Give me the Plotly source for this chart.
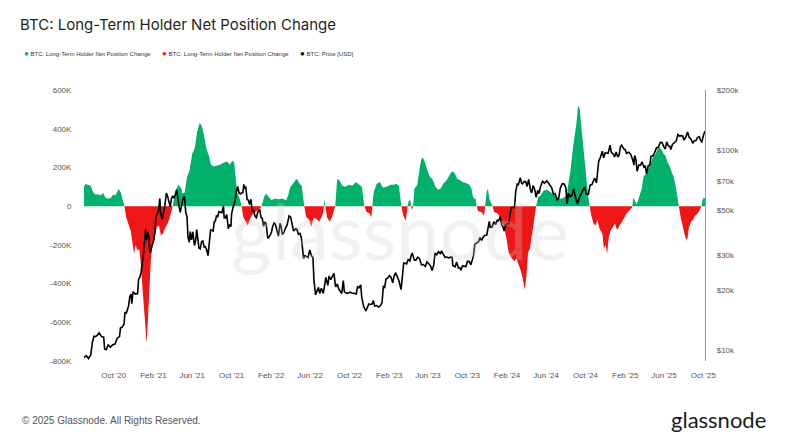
import numpy as np
import plotly.graph_objects as go

# ---------------- DATA ----------------
# Long-Term Holder Net Position Change (BTC, thousands)
lth_dates = [
"2020-07-01","2020-07-05","2020-07-13","2020-07-22","2020-07-29","2020-08-05","2020-08-13","2020-08-22","2020-08-29",
"2020-09-05","2020-09-13","2020-09-22","2020-09-29","2020-10-06","2020-10-12","2020-10-16","2020-10-23","2020-10-29",
"2020-11-03","2020-11-09","2020-11-16","2020-11-23","2020-11-28","2020-12-03","2020-12-08","2020-12-13","2020-12-19",
"2020-12-24","2020-12-29","2021-01-03","2021-01-08","2021-01-11","2021-01-15","2021-01-20","2021-01-24","2021-01-30",
"2021-02-05","2021-02-11","2021-02-18","2021-02-24","2021-03-03","2021-03-10","2021-03-17","2021-03-23","2021-03-29",
"2021-04-02","2021-04-08","2021-04-19","2021-04-29","2021-05-01","2021-05-09","2021-05-16","2021-05-24","2021-06-01",
"2021-06-09","2021-06-16","2021-06-24","2021-06-29","2021-07-04","2021-07-10","2021-07-16","2021-07-23","2021-07-29",
"2021-08-07","2021-08-17","2021-08-28","2021-09-07","2021-09-17","2021-09-26","2021-10-03","2021-10-09","2021-10-13",
"2021-10-18","2021-10-26","2021-11-01","2021-11-06","2021-11-13","2021-11-20","2021-11-26","2021-12-04","2021-12-14",
"2021-12-27","2022-01-02","2022-01-09","2022-01-16","2022-01-25","2022-02-02","2022-02-12","2022-02-25","2022-03-07",
"2022-03-19","2022-03-25","2022-04-01","2022-04-09","2022-04-17","2022-04-22","2022-04-30","2022-05-06","2022-05-11",
"2022-05-14","2022-05-20","2022-05-29","2022-06-05","2022-06-12","2022-06-20","2022-06-29","2022-07-07","2022-07-12",
"2022-07-14","2022-07-16","2022-07-18","2022-07-24","2022-08-01","2022-08-08","2022-08-15","2022-08-18","2022-08-24",
"2022-08-30","2022-09-09","2022-09-19","2022-09-30","2022-10-10","2022-10-21","2022-10-31","2022-11-08","2022-11-13",
"2022-11-16","2022-11-23","2022-12-01","2022-12-08","2022-12-11","2022-12-15","2022-12-24","2023-01-03","2023-01-13",
"2023-01-24","2023-02-05","2023-02-13","2023-02-24","2023-03-03","2023-03-08","2023-03-11","2023-03-16","2023-03-24",
"2023-03-28","2023-03-30","2023-04-03","2023-04-08","2023-04-10","2023-04-13","2023-04-16","2023-04-20","2023-04-29",
"2023-05-06","2023-05-11","2023-05-16","2023-05-23","2023-05-30","2023-06-07","2023-06-15","2023-06-24","2023-07-02",
"2023-07-10","2023-07-18","2023-07-27","2023-08-04","2023-08-10","2023-08-16","2023-08-23","2023-08-31","2023-09-08",
"2023-09-16","2023-09-27","2023-10-07","2023-10-13","2023-10-19","2023-10-27","2023-10-30","2023-11-03","2023-11-13",
"2023-11-22","2023-11-25","2023-11-30","2023-12-04","2023-12-08","2023-12-14","2023-12-18","2023-12-23","2023-12-31",
"2024-01-06","2024-01-14","2024-01-23","2024-01-30","2024-02-06","2024-02-14","2024-02-23","2024-03-01","2024-03-08",
"2024-03-14","2024-03-20","2024-03-27","2024-04-01","2024-04-06","2024-04-12","2024-04-18","2024-04-24","2024-04-29",
"2024-05-01","2024-05-07","2024-05-15","2024-05-24","2024-06-01","2024-06-09","2024-06-17","2024-06-26","2024-07-04",
"2024-07-12","2024-07-21","2024-07-29","2024-08-04","2024-08-10","2024-08-16","2024-08-23","2024-08-29","2024-09-03",
"2024-09-08","2024-09-13","2024-09-18","2024-09-24","2024-09-29","2024-10-04","2024-10-09","2024-10-14","2024-10-19",
"2024-10-26","2024-11-01","2024-11-07","2024-11-13","2024-11-19","2024-11-22","2024-11-27","2024-12-02","2024-12-07",
"2024-12-12","2024-12-17","2024-12-25","2024-12-31","2025-01-07","2025-01-14","2025-01-21","2025-01-28","2025-02-04",
"2025-02-12","2025-02-21","2025-02-23","2025-02-26","2025-03-03","2025-03-08","2025-03-13","2025-03-18","2025-03-24",
"2025-03-30","2025-04-05","2025-04-11","2025-04-17","2025-04-24","2025-04-30","2025-05-06","2025-05-12","2025-05-18",
"2025-05-25","2025-05-31","2025-06-06","2025-06-12","2025-06-18","2025-06-25","2025-07-01","2025-07-07","2025-07-13",
"2025-07-17","2025-07-23","2025-07-28","2025-08-03","2025-08-09","2025-08-13","2025-08-17","2025-08-24","2025-08-30",
"2025-09-05","2025-09-12","2025-09-20","2025-09-25","2025-09-28","2025-10-02","2025-10-06",
]
lth_k = [
100,115,110,105,72,60,62,55,68,
45,38,42,60,55,75,90,70,38,
0,-60,-90,-130,-190,-245,-200,-230,-220,
-300,-420,-540,-650,-710,-580,-430,-280,-190,
-160,-110,-100,-150,-140,-110,-90,-60,-15,
0,70,110,90,65,70,150,185,270,
300,380,430,420,395,345,290,260,215,
205,210,215,225,230,215,235,225,150,
75,40,0,-55,-80,-100,-70,-45,-30,
-15,0,45,65,45,30,40,35,40,
30,55,100,115,135,140,115,105,40,
0,-55,-70,-105,-60,-65,-80,-55,-30,
0,38,0,-60,-80,-55,-15,0,140,
135,105,100,110,105,125,110,100,40,
0,-30,-35,-57,0,70,115,125,95,
100,110,110,115,105,38,0,-45,-75,
-30,0,30,28,0,-20,0,90,110,
190,240,253,225,185,150,140,100,85,
90,115,130,150,170,180,170,140,135,
125,120,110,95,45,35,0,-25,-30,
-48,0,75,90,40,20,0,-30,-35,
-45,-75,-110,-165,-240,-265,-285,-270,-300,
-330,-370,-430,-360,-240,-220,-150,-70,-10,
0,45,55,80,85,80,70,55,45,
38,40,48,60,115,190,300,360,430,
520,505,410,300,210,125,55,0,-50,
-90,-100,-70,-115,-135,-140,-220,-200,-245,
-160,-130,-110,-90,-125,-100,-85,-60,-40,
-25,-10,0,45,25,10,30,55,90,
155,165,185,210,230,260,270,295,305,
290,270,260,225,210,175,150,105,50,
0,-60,-100,-140,-175,-165,-110,-80,-70,
-50,-40,-20,0,30,45,40,
]

# BTC price (USD)
price_dates = [
"2020-07-01","2020-07-08","2020-07-15","2020-07-22","2020-07-27","2020-08-01","2020-08-05","2020-08-10","2020-08-17",
"2020-08-24","2020-08-31","2020-09-03","2020-09-08","2020-09-14","2020-09-21","2020-09-28","2020-10-05","2020-10-12",
"2020-10-19","2020-10-22","2020-10-26","2020-11-02","2020-11-05","2020-11-09","2020-11-16","2020-11-20","2020-11-24",
"2020-11-26","2020-11-30","2020-12-07","2020-12-14","2020-12-17","2020-12-21","2020-12-25","2020-12-28","2020-12-31",
"2021-01-03","2021-01-08","2021-01-11","2021-01-14","2021-01-18","2021-01-21","2021-01-25","2021-01-29","2021-02-02",
"2021-02-06","2021-02-08","2021-02-12","2021-02-16","2021-02-21","2021-02-23","2021-02-28","2021-03-04","2021-03-08",
"2021-03-13","2021-03-17","2021-03-22","2021-03-25","2021-03-29","2021-04-02","2021-04-06","2021-04-10","2021-04-14",
"2021-04-18","2021-04-22","2021-04-25","2021-04-29","2021-05-03","2021-05-08","2021-05-12","2021-05-16","2021-05-19",
"2021-05-23","2021-05-26","2021-05-30","2021-06-03","2021-06-08","2021-06-12","2021-06-15","2021-06-19","2021-06-22",
"2021-06-26","2021-06-30","2021-07-04","2021-07-08","2021-07-12","2021-07-16","2021-07-20","2021-07-24","2021-07-28",
"2021-08-01","2021-08-05","2021-08-08","2021-08-12","2021-08-15","2021-08-19","2021-08-23","2021-08-27","2021-09-01",
"2021-09-06","2021-09-08","2021-09-12","2021-09-16","2021-09-21","2021-09-25","2021-09-29","2021-10-01","2021-10-05",
"2021-10-08","2021-10-12","2021-10-15","2021-10-20","2021-10-24","2021-10-28","2021-11-01","2021-11-05","2021-11-08",
"2021-11-10","2021-11-14","2021-11-18","2021-11-22","2021-11-26","2021-11-30","2021-12-04","2021-12-08","2021-12-13",
"2021-12-17","2021-12-21","2021-12-27","2021-12-31","2022-01-04","2022-01-08","2022-01-12","2022-01-16","2022-01-21",
"2022-01-24","2022-01-28","2022-02-01","2022-02-05","2022-02-10","2022-02-14","2022-02-18","2022-02-23","2022-02-28",
"2022-03-03","2022-03-07","2022-03-12","2022-03-17","2022-03-22","2022-03-28","2022-04-02","2022-04-06","2022-04-11",
"2022-04-16","2022-04-21","2022-04-26","2022-05-01","2022-05-05","2022-05-09","2022-05-12","2022-05-16","2022-05-21",
"2022-05-26","2022-05-31","2022-06-05","2022-06-10","2022-06-13","2022-06-18","2022-06-22","2022-06-27","2022-07-01",
"2022-07-06","2022-07-12","2022-07-15","2022-07-20","2022-07-26","2022-07-30","2022-08-04","2022-08-10","2022-08-14",
"2022-08-19","2022-08-24","2022-08-29","2022-09-03","2022-09-07","2022-09-12","2022-09-15","2022-09-19","2022-09-23",
"2022-09-28","2022-10-03","2022-10-08","2022-10-13","2022-10-18","2022-10-22","2022-10-26","2022-10-30","2022-11-05",
"2022-11-08","2022-11-10","2022-11-14","2022-11-21","2022-11-25","2022-11-30","2022-12-05","2022-12-10","2022-12-14",
"2022-12-18","2022-12-24","2022-12-31","2023-01-05","2023-01-10","2023-01-14","2023-01-18","2023-01-22","2023-01-27",
"2023-02-02","2023-02-07","2023-02-12","2023-02-16","2023-02-21","2023-02-26","2023-03-03","2023-03-10","2023-03-14",
"2023-03-18","2023-03-22","2023-03-27","2023-04-01","2023-04-06","2023-04-11","2023-04-14","2023-04-20","2023-04-25",
"2023-04-30","2023-05-06","2023-05-12","2023-05-18","2023-05-24","2023-05-29","2023-06-03","2023-06-09","2023-06-14",
"2023-06-19","2023-06-23","2023-06-28","2023-07-04","2023-07-10","2023-07-13","2023-07-19","2023-07-24","2023-07-30",
"2023-08-05","2023-08-10","2023-08-15","2023-08-17","2023-08-24","2023-08-29","2023-09-03","2023-09-08","2023-09-11",
"2023-09-16","2023-09-21","2023-09-27","2023-10-01","2023-10-07","2023-10-12","2023-10-17","2023-10-20","2023-10-24",
"2023-10-30","2023-11-05","2023-11-09","2023-11-14","2023-11-18","2023-11-24","2023-11-30","2023-12-04","2023-12-08",
"2023-12-11","2023-12-17","2023-12-22","2023-12-28","2024-01-02","2024-01-05","2024-01-11","2024-01-15","2024-01-19",
"2024-01-23","2024-01-27","2024-02-01","2024-02-06","2024-02-10","2024-02-14","2024-02-19","2024-02-24","2024-02-28",
"2024-03-04","2024-03-07","2024-03-13","2024-03-17","2024-03-20","2024-03-25","2024-03-30","2024-04-03","2024-04-08",
"2024-04-13","2024-04-17","2024-04-22","2024-04-27","2024-05-01","2024-05-06","2024-05-10","2024-05-15","2024-05-21",
"2024-05-27","2024-06-03","2024-06-07","2024-06-12","2024-06-18","2024-06-24","2024-06-29","2024-07-05","2024-07-10",
"2024-07-15","2024-07-21","2024-07-27","2024-08-01","2024-08-05","2024-08-09","2024-08-14","2024-08-20","2024-08-25",
"2024-08-30","2024-09-06","2024-09-12","2024-09-18","2024-09-23","2024-09-28","2024-10-03","2024-10-10","2024-10-15",
"2024-10-21","2024-10-29","2024-11-04","2024-11-07","2024-11-11","2024-11-15","2024-11-22","2024-11-26","2024-12-01",
"2024-12-05","2024-12-10","2024-12-16","2024-12-20","2024-12-26","2024-12-30","2025-01-04","2025-01-09","2025-01-13",
"2025-01-17","2025-01-21","2025-01-27","2025-02-01","2025-02-05","2025-02-12","2025-02-18","2025-02-25","2025-02-28",
"2025-03-02","2025-03-06","2025-03-10","2025-03-15","2025-03-20","2025-03-25","2025-03-31","2025-04-04","2025-04-08",
"2025-04-13","2025-04-18","2025-04-22","2025-04-27","2025-05-02","2025-05-09","2025-05-14","2025-05-21","2025-05-26",
"2025-05-31","2025-06-05","2025-06-09","2025-06-14","2025-06-19","2025-06-22","2025-06-27","2025-07-02","2025-07-09",
"2025-07-14","2025-07-19","2025-07-24","2025-07-29","2025-08-02","2025-08-08","2025-08-13","2025-08-18","2025-08-24",
"2025-08-29","2025-09-03","2025-09-08","2025-09-13","2025-09-18","2025-09-22","2025-09-26","2025-10-01","2025-10-04",
"2025-10-06",
]
price_usd = [
9230,9440,9130,9540,11030,11800,11750,11880,12300,
11750,11680,10170,10130,10680,10420,10700,10790,11540,
11750,12990,13030,13560,15590,15320,16720,18680,19160,
17150,19700,19150,19270,22800,23250,24700,27080,29000,
32780,40580,35570,39190,36630,30830,32250,34300,35500,
39300,46200,47900,49200,57500,48800,45200,48400,52400,
61200,58900,54500,52300,57600,59000,58100,59800,63500,
55800,51700,49000,53500,57000,58800,49200,46400,37000,
34700,39300,35700,39200,33500,35500,40200,35500,32500,
32200,35000,35300,32900,33000,31800,29800,34200,40000,
39900,39600,43800,44400,47000,46700,49500,49000,48800,
52700,46100,46000,47800,40600,42700,41600,48100,51500,
53900,56000,61600,66000,61300,60600,61300,61500,67600,
64900,65500,56900,56300,53600,57000,49400,50600,46700,
46100,49000,50700,46300,45800,41800,43900,43100,36300,
36700,37700,38700,41500,43600,42500,40000,37300,43200,
42000,38000,38800,40900,42400,47100,46400,43200,39500,
40500,40500,38100,38500,36600,30300,28900,29800,29400,
29200,31800,29900,29100,22500,19000,20000,20700,19300,
20500,19300,20800,23200,21200,23600,22600,23900,24300,
20800,21500,20300,19800,19300,22400,19700,19500,19300,
19400,19600,19400,19400,19300,19200,20800,20600,21300,
18500,17600,16600,15800,16500,17100,17000,17100,17800,
16700,16800,16500,16800,17400,20900,20700,22700,23000,
23700,23200,21800,23500,24500,23500,22400,20200,24300,
27400,27300,27100,28500,28000,30200,30500,28300,28300,
29300,28800,26800,26900,26300,27700,27200,26500,25100,
26800,30700,30100,31200,30400,31500,29900,29200,29300,
29000,29400,29200,26600,26200,27700,25900,25900,25200,
26500,26500,26300,27900,27900,26800,28400,29700,33900,
34500,35000,36700,35500,36600,37700,37700,41900,44200,
41300,41400,44000,42600,45000,44200,46600,42500,41600,
39500,42100,43000,43000,47100,51800,51800,51700,62500,
68300,67000,73100,68400,67900,70000,69700,66000,71600,
64000,61300,66800,63400,58200,63100,60800,66200,70100,
68500,70500,69300,67300,65100,60300,60800,56700,57700,
64800,68200,67900,65300,54000,60900,58700,59500,64300,
59100,53900,58100,61700,63300,65800,60700,60300,67000,
67400,72700,68800,76000,88700,91000,98900,91900,97200,
97000,96600,106000,97600,95800,92600,98100,92500,94500,
104000,106100,102000,100600,96600,97800,95500,88700,84300,
94200,90000,78500,84300,84200,87500,82500,83800,76300,
83700,84400,93400,93700,96500,103000,103500,109600,109500,
104600,101500,110200,105500,104600,101000,107000,108800,111300,
119900,117800,118300,117900,112500,116700,123300,116200,113500,
108400,111700,112000,115900,117100,112700,109700,118600,122200,
124700,
]

# Axis ticks
x_tick_dates = ["2020-10-01","2021-02-01","2021-06-01","2021-10-01","2022-02-01","2022-06-01","2022-10-01","2023-02-01",
                "2023-06-01","2023-10-01","2024-02-01","2024-06-01","2024-10-01","2025-02-01","2025-06-01","2025-10-01"]
x_tick_labels = ["Oct '20","Feb '21","Jun '21","Oct '21","Feb '22","Jun '22","Oct '22","Feb '23",
                 "Jun '23","Oct '23","Feb '24","Jun '24","Oct '24","Feb '25","Jun '25","Oct '25"]
y_tick_vals = [-800000,-600000,-400000,-200000,0,200000,400000,600000]
y_tick_labels = ["-800K","-600K","-400K","-200K","0","200K","400K","600K"]
y2_tick_vals = [10000,20000,30000,50000,70000,100000,200000]
y2_tick_labels = ["$10k","$20k","$30k","$50k","$70k","$100k","$200k"]

# ---------------- FIGURE ----------------
GREEN = "#00b06b"
RED = "#ee1616"
OFF = 8                      # page body margin offset
W, H = 789 - OFF, 444 - 2 * OFF
L, T = 84 - OFF, 90 - OFF
R = W - (705 - OFF)
B = H - (361 - OFF)

vals = np.array(lth_k, dtype=float) * 1000
pos = np.where(vals > 0, vals, 0)
neg = np.where(vals < 0, vals, 0)

fig = go.Figure()
fig.add_trace(go.Scatter(x=lth_dates, y=pos, mode="lines", line=dict(width=0, color=GREEN),
                         fill="tozeroy", fillcolor=GREEN, showlegend=False, hoverinfo="skip"))
fig.add_trace(go.Scatter(x=lth_dates, y=neg, mode="lines", line=dict(width=0, color=RED),
                         fill="tozeroy", fillcolor=RED, showlegend=False, hoverinfo="skip"))
fig.add_trace(go.Scatter(x=price_dates, y=price_usd, mode="lines", yaxis="y2",
                         line=dict(width=1.6, color="#000000"), showlegend=False))

pw = W - L - R
ph = H - T - B
def px_x(px):
    return (px - OFF - L) / pw
def px_y(py):
    return (H - B - (py - OFF)) / ph

tick_font = dict(family="Liberation Sans, Arial, sans-serif", size=8, color="#555555")

annotations = []
# legend (manual)
leg_items = [(22, GREEN, "BTC: Long-Term Holder Net Position Change"),
             (160, RED, "BTC: Long-Term Holder Net Position Change"),
             (298, "#000000", "BTC: Price [USD]")]
for xpx, col, txt in leg_items:
    annotations.append(dict(xref="paper", yref="paper", x=px_x(xpx), y=px_y(53), xanchor="left", yanchor="middle",
                            showarrow=False,
                            text=f'<span style="color:{col};font-size:8px">●</span> {txt}',
                            font=dict(family="Liberation Sans, Arial, sans-serif", size=6, color="#333333")))
# watermark
annotations.append(dict(xref="paper", yref="paper", x=px_x(400), y=px_y(230), xanchor="center", yanchor="middle",
                        showarrow=False, text="glassnode",
                        font=dict(family="Lato, sans-serif", size=78, color="rgba(205,205,205,0.27)")))
# footer
annotations.append(dict(xref="paper", yref="paper", x=px_x(20), y=px_y(420), xanchor="left", yanchor="middle",
                        showarrow=False, text="© 2025 Glassnode. All Rights Reserved.",
                        font=dict(family="Liberation Sans, Arial, sans-serif", size=10, color="#555555")))
annotations.append(dict(xref="paper", yref="paper", x=px_x(768), y=px_y(419), xanchor="right", yanchor="middle",
                        showarrow=False, text="glassnode",
                        font=dict(family="Lato, sans-serif", size=22, color="#1a1a1a")))

fig.update_layout(
    width=W, height=H,
    margin=dict(l=L, r=R, t=T, b=B, pad=0),
    paper_bgcolor="white", plot_bgcolor="white",
    title=dict(text="BTC: Long-Term Holder Net Position Change", x=(20 - OFF) / W, xref="container", xanchor="left",
               y=1 - (25 - OFF) / H, yref="container", yanchor="middle",
               font=dict(family="Inter, sans-serif", size=15, color="#1f1f1f")),
    xaxis=dict(type="date", range=["2020-07-01", "2025-10-06"], tickvals=x_tick_dates, ticktext=x_tick_labels,
               showgrid=False, zeroline=False, showline=False, ticks="outside", ticklen=6,
               tickcolor="rgba(0,0,0,0)", tickfont=tick_font),
    yaxis=dict(range=[-800000, 600000], tickvals=y_tick_vals, ticktext=y_tick_labels, showgrid=False,
               zeroline=False, showline=False, ticks="outside", ticklen=10, tickcolor="rgba(0,0,0,0)",
               tickfont=tick_font),
    yaxis2=dict(type="log", overlaying="y", side="right", range=[np.log10(8880), np.log10(200000)],
                tickvals=y2_tick_vals, ticktext=y2_tick_labels, showgrid=False, zeroline=False,
                showline=True, linecolor="#9a9a9a", linewidth=1.2, ticks="outside", ticklen=9,
                tickcolor="rgba(0,0,0,0)", tickfont=tick_font),
    annotations=annotations,
    showlegend=False,
)

fig.write_html("out.html")
